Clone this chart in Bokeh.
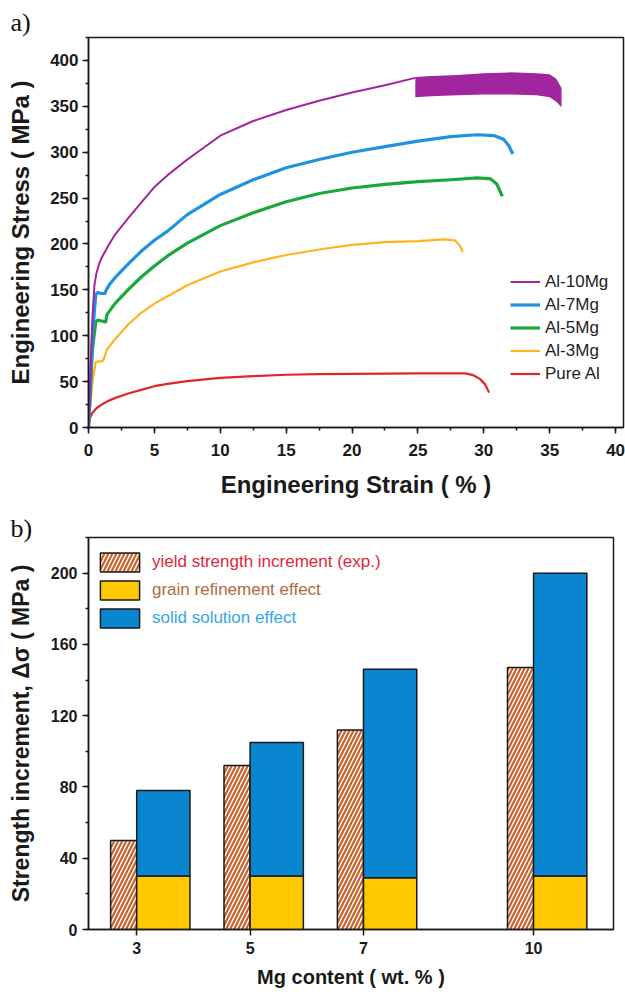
from bokeh.plotting import figure
from bokeh.models import (Range1d, SingleIntervalTicker, FixedTicker, Legend, LegendItem)
from bokeh.layouts import column
from bokeh.embed import file_html
from bokeh.resources import INLINE
import numpy as np

# ---------------- data: (a) tensile curves ----------------
al10_x = [0, 0.15, 0.3, 0.45, 0.6, 0.8, 1.0, 1.5, 2, 3, 4, 5, 6, 7.5, 10, 12.5, 15, 17.5, 20, 22.5, 24.8]
al10_y = [0, 60, 120, 155, 168, 178, 185, 198, 210, 228, 245, 262, 275, 292, 318, 334, 346, 356, 365, 373, 381]
al10_band_x = [24.8, 26, 28, 30, 32, 34, 35, 35.5, 35.9]
al10_band_hi = [382, 383, 384, 386, 387, 386, 385, 380, 370]
al10_band_lo = [360, 361, 362, 363, 363, 362, 360, 355, 349]

al7_x = [0, 0.3, 0.55, 0.7, 1.0, 1.25, 1.35, 1.6, 2, 3, 4, 5, 6, 7.5, 10, 12.5, 15, 17.5, 20, 22.5, 25, 27.5, 29.5, 30.8, 31.5, 31.9, 32.2]
al7_y = [0, 100, 145, 147, 146, 146, 150, 156, 163, 178, 192, 204, 214, 232, 254, 270, 283, 292, 300, 306, 312, 317, 319, 318, 314, 307, 298]

al5_x = [0, 0.3, 0.55, 0.7, 1.0, 1.3, 1.4, 1.7, 2, 3, 4, 5, 6, 7.5, 10, 12.5, 15, 17.5, 20, 22.5, 25, 27.5, 29.5, 30.5, 31.0, 31.4]
al5_y = [0, 85, 115, 117, 116, 115, 123, 129, 135, 150, 164, 176, 187, 201, 220, 234, 246, 255, 261, 265, 268, 270, 272, 271, 265, 252]

al3_x = [0, 0.3, 0.55, 0.7, 1.0, 1.15, 1.4, 2, 3, 4, 5, 6, 7.5, 10, 12.5, 15, 17.5, 20, 22.5, 25, 27, 27.8, 28.2, 28.4]
al3_y = [0, 50, 71, 72, 72, 74, 85, 96, 112, 125, 135, 143, 155, 170, 180, 188, 194, 199, 202, 203, 205, 204, 198, 191]

pure_x = [0, 0.1, 0.3, 0.6, 1, 1.5, 2, 3, 4, 5, 6, 7.5, 10, 12.5, 15, 17.5, 20, 25, 28.6, 29.2, 29.7, 30.1, 30.4]
pure_y = [0, 10, 16, 21, 25, 29, 32, 37, 41, 45, 47.5, 50.5, 54, 56, 57.5, 58.2, 58.5, 59, 59, 57, 53, 47, 38]

series_names = ["Al-10Mg", "Al-7Mg", "Al-5Mg", "Al-3Mg", "Pure Al"]

# ---------------- data: (b) strength increments ----------------
mg_content = [3, 5, 7, 10]
mg_labels = ["3", "5", "7", "10"]
yield_exp = [50, 92, 112, 147]
grain_refinement = [30, 30, 29, 30]
solid_solution = [48, 75, 117, 170]
legend_b = ["yield strength increment (exp.)", "grain refinement effect", "solid solution effect"]

# ---------------- styles ----------------
C_PURPLE = "#a0259f"
C_BLUE = "#1f93e0"
C_GREEN = "#1ba83a"
C_ORANGE = "#ffb31f"
C_RED = "#e0262c"
C_BAR_BLUE = "#0a86d0"
C_BAR_YEL = "#ffc800"
C_HATCH = "#c8622b"
AX = "#1a1a1a"
FONT = "Liberation Sans"


def style_axes(p, tick_size, label_size):
    p.grid.visible = False
    p.outline_line_color = AX
    p.outline_line_width = 1.5
    p.outline_line_alpha = 1
    for ax in (p.xaxis[0], p.yaxis[0]):
        ax.axis_line_color = AX
        ax.axis_line_width = 1.5
        ax.major_tick_line_color = AX
        ax.major_tick_line_width = 1.5
        ax.minor_tick_line_color = AX
        ax.minor_tick_line_width = 1.5
        ax.major_tick_in = 0
        ax.major_tick_out = 6
        ax.minor_tick_in = 0
        ax.minor_tick_out = 3
        ax.major_label_text_font = FONT
        ax.major_label_text_font_style = "bold"
        ax.major_label_text_font_size = tick_size
        ax.major_label_text_color = AX
        ax.axis_label_text_font = FONT
        ax.axis_label_text_font_style = "bold"
        ax.axis_label_text_font_size = label_size
        ax.axis_label_text_color = AX


def panel_title(p, text, standoff):
    p.title.text = text
    p.title.align = "left"
    p.title.offset = -78
    p.title.standoff = standoff
    p.title.text_font = "Liberation Serif"
    p.title.text_font_size = "26px"
    p.title.text_font_style = "normal"
    p.title.text_color = "#111111"


# ================= (a) =================
p1 = figure(width=625, height=503, x_range=Range1d(0, 40.6), y_range=Range1d(0, 425),
            output_backend="svg", toolbar_location=None, frame_align=False,
            min_border_left=88, min_border_right=2, min_border_top=37, min_border_bottom=76)
style_axes(p1, "17px", "24px")
panel_title(p1, "a)", 2)
p1.xaxis.ticker = SingleIntervalTicker(interval=5, num_minor_ticks=2)
p1.yaxis.ticker = SingleIntervalTicker(interval=50, num_minor_ticks=2)
p1.xaxis.axis_label = "Engineering Strain ( % )"
p1.yaxis.axis_label = "Engineering Stress ( MPa )"
p1.xaxis.major_label_standoff = 10
p1.xaxis.axis_label_standoff = 12
p1.yaxis.major_label_standoff = 4
p1.yaxis.axis_label_standoff = 13

r_pure = p1.line(pure_x, pure_y, line_color=C_RED, line_width=2.2, line_join="round")
r_3 = p1.line(al3_x, al3_y, line_color=C_ORANGE, line_width=2.2, line_join="round")
r_5 = p1.line(al5_x, al5_y, line_color=C_GREEN, line_width=3.2, line_join="round")
r_7 = p1.line(al7_x, al7_y, line_color=C_BLUE, line_width=3.2, line_join="round")
r_10 = p1.line(al10_x, al10_y, line_color=C_PURPLE, line_width=2, line_join="round")
p1.varea(x=al10_band_x, y1=al10_band_lo, y2=al10_band_hi, fill_color=C_PURPLE)

leg1 = Legend(items=[LegendItem(label=series_names[0], renderers=[r_10]),
                     LegendItem(label=series_names[1], renderers=[r_7]),
                     LegendItem(label=series_names[2], renderers=[r_5]),
                     LegendItem(label=series_names[3], renderers=[r_3]),
                     LegendItem(label=series_names[4], renderers=[r_pure])],
              location=(422, 42), orientation="vertical",
              glyph_width=30, glyph_height=23, label_height=23, spacing=0,
              padding=0, margin=0, label_standoff=5,
              label_text_font=FONT, label_text_font_size="17px", label_text_color="#222222",
              border_line_alpha=0, background_fill_alpha=0)
p1.add_layout(leg1)

# ================= (b) =================
p2 = figure(width=625, height=489, x_range=Range1d(2.15, 11.41), y_range=Range1d(0, 220),
            output_backend="svg", toolbar_location=None, frame_align=False,
            min_border_left=88, min_border_right=12, min_border_top=34, min_border_bottom=63)
style_axes(p2, "16px", "23px")
panel_title(p2, "b)", -10)
p2.xaxis.ticker = FixedTicker(ticks=mg_content, minor_ticks=[])
p2.xaxis.major_label_overrides = {m: s for m, s in zip(mg_content, mg_labels)}
p2.yaxis.ticker = SingleIntervalTicker(interval=40, num_minor_ticks=2)
p2.xaxis.axis_label = "Mg content ( wt. % )"
p2.xaxis.axis_label_text_font_size = "20px"
p2.yaxis.axis_label = "Strength increment, Δσ ( MPa )"
p2.xaxis.major_label_standoff = 6
p2.xaxis.axis_label_standoff = 9
p2.yaxis.major_label_standoff = 5
p2.yaxis.axis_label_standoff = 14

mg = np.array(mg_content, dtype=float)
grain = np.array(grain_refinement, dtype=float)
solid = np.array(solid_solution, dtype=float)
W_H = 0.46
W_S = 0.94

r_hatch = p2.vbar(x=mg - W_H / 2, width=W_H, bottom=0, top=yield_exp,
                  fill_color="white", hatch_pattern="/", hatch_color=C_HATCH,
                  hatch_scale=8, hatch_weight=2.2,
                  line_color=AX, line_width=1.5)
r_grain = p2.vbar(x=mg + W_S / 2, width=W_S, bottom=0, top=grain,
                  fill_color=C_BAR_YEL, line_color=AX, line_width=1.5)
r_solid = p2.vbar(x=mg + W_S / 2, width=W_S, bottom=grain, top=grain + solid,
                  fill_color=C_BAR_BLUE, line_color=AX, line_width=1.5)

leg_colors = ["#e3263a", "#b06b3e", "#36a6e6"]
leg_rs = [r_hatch, r_grain, r_solid]
leg_y = [355, 327, 299]
for name, col, rr, yy in zip(legend_b, leg_colors, leg_rs, leg_y):
    lg = Legend(items=[LegendItem(label=name, renderers=[rr])], location=(7, yy),
                glyph_width=49, glyph_height=24, label_height=24, padding=0, margin=0,
                label_standoff=8, label_text_font=FONT, label_text_font_size="17px",
                label_text_color=col, border_line_alpha=0, background_fill_alpha=0)
    p2.add_layout(lg)

layout = column(p1, p2, spacing=0)
open("out.html", "w").write(file_html(layout, INLINE))
